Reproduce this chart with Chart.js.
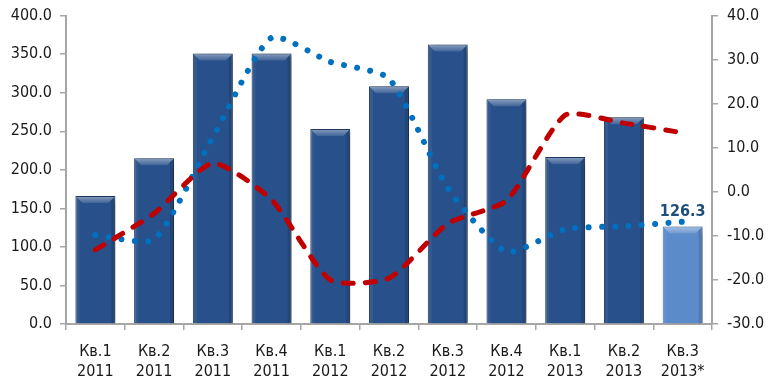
<!DOCTYPE html>
<html>
<head>
<meta charset="utf-8">
<script src="https://cdn.jsdelivr.net/npm/chart.js@4/dist/chart.umd.min.js"></script>
<style>
  html, body { margin: 0; padding: 0; background: #ffffff; }
  #wrap { width: 768px; height: 378px; }
</style>
</head>
<body>
<div id="wrap"><canvas id="c" width="768" height="378"></canvas></div>
<script>
// Quarter / year labels for the category axis
const quarters = ['Кв.1', 'Кв.2', 'Кв.3', 'Кв.4', 'Кв.1', 'Кв.2', 'Кв.3', 'Кв.4', 'Кв.1', 'Кв.2', 'Кв.3'];
const years    = ['2011', '2011', '2011', '2011', '2012', '2012', '2012', '2012', '2013', '2013', '2013*'];

// Bars: volume (left axis)
const volume = [166.0, 215.0, 351.0, 351.0, 253.0, 308.5, 362.5, 291.5, 216.5, 268.0, 126.3];
// Dashed red line: change vs previous quarter, % (right axis)
const growthQoQ = [-13.2, -4.9, 6.5, -1.8, -20.0, -19.6, -7.2, -2.0, 17.4, 15.6, 13.4];
// Dotted blue line: change vs same quarter of previous year, % (right axis)
const growthYoY = [-9.8, -10.8, 12.4, 35.0, 29.5, 25.7, 0.9, -13.6, -8.5, -7.8, -6.8];

// Axis ranges: [min, max, step]
const volumeAxis = [0, 400, 50];
const growthAxis = [-30, 40, 10];

const labels = quarters.map((q, i) => [q, years[i]]);
const lastIndex = volume.length - 1;

const FONT = '"DejaVu Sans Condensed", "DejaVu Sans", Tahoma, sans-serif';
const AXIS_COLOR = '#A6A6A6';
const TEXT_COLOR = '#1a1a1a';

const barFill = volume.map((v, i) => i === lastIndex ? '#5B8BCB' : '#28508A');
const barEdge = volume.map((v, i) => i === lastIndex ? '#4A78B5' : '#1E3E6C');

// Soft drop shadow behind the bars plus a bevelled top edge
const barStyle = {
  id: 'barStyle',
  beforeDatasetDraw(chart, args) {
    if (args.index !== 0) return;
    const ctx = chart.ctx;
    ctx.save();
    ctx.shadowColor = 'rgba(0,0,0,0.45)';
    ctx.shadowBlur = 8;
    ctx.shadowOffsetX = 5;
    ctx.shadowOffsetY = 2;
  },
  afterDatasetDraw(chart, args) {
    if (args.index !== 0) return;
    const ctx = chart.ctx;
    ctx.restore();
    const meta = chart.getDatasetMeta(0);
    meta.data.forEach((bar) => {
      const w = bar.width;
      const x0 = bar.x - w / 2, x1 = bar.x + w / 2;
      const top = bar.y, bottom = bar.base;
      const b = 7;
      // top bevel
      const g = ctx.createLinearGradient(0, top, 0, top + b);
      g.addColorStop(0, 'rgba(255,255,255,0.45)');
      g.addColorStop(1, 'rgba(255,255,255,0.12)');
      ctx.fillStyle = g;
      ctx.beginPath();
      ctx.moveTo(x0 + 1, top + 1);
      ctx.lineTo(x1 - 1, top + 1);
      ctx.lineTo(x1 - b, top + b);
      ctx.lineTo(x0 + b, top + b);
      ctx.closePath();
      ctx.fill();
      // right side slightly darker
      ctx.fillStyle = 'rgba(0,0,0,0.12)';
      ctx.beginPath();
      ctx.moveTo(x1 - 1, top + 1);
      ctx.lineTo(x1 - 1, bottom);
      ctx.lineTo(x1 - 4, bottom);
      ctx.lineTo(x1 - 4, top + 4);
      ctx.closePath();
      ctx.fill();
      // left side slightly lighter
      ctx.fillStyle = 'rgba(255,255,255,0.06)';
      ctx.beginPath();
      ctx.moveTo(x0 + 1, top + 1);
      ctx.lineTo(x0 + 4, top + 4);
      ctx.lineTo(x0 + 4, bottom);
      ctx.lineTo(x0 + 1, bottom);
      ctx.closePath();
      ctx.fill();
    });
  }
};

// Value label over the last (estimated) bar
const lastLabel = {
  id: 'lastLabel',
  afterDatasetsDraw(chart) {
    const ctx = chart.ctx;
    const bar = chart.getDatasetMeta(0).data[lastIndex];
    ctx.save();
    ctx.font = 'bold 16px ' + FONT;
    ctx.fillStyle = '#1F4E7A';
    ctx.textAlign = 'center';
    ctx.textBaseline = 'alphabetic';
    ctx.fillText(volume[lastIndex].toFixed(1), bar.x, bar.y - 11);
    ctx.restore();
  }
};

// Vertical axes: fixed width, slightly tighter top padding
function fitVertical(width) {
  return (s) => {
    s.width = width;
    s.paddingTop = Math.max(0, (s.paddingTop || 0) - 3);
  };
}

new Chart(document.getElementById('c'), {
  data: {
    labels: labels,
    datasets: [
      {
        type: 'bar',
        data: volume,
        yAxisID: 'y',
        backgroundColor: barFill,
        borderColor: barEdge,
        borderWidth: 1,
        barPercentage: 0.68,
        categoryPercentage: 1.0,
        order: 3
      },
      {
        type: 'line',
        data: growthYoY,
        yAxisID: 'y1',
        borderColor: '#0070C0',
        borderWidth: 6,
        borderDash: [0.001, 13.3],
        borderCapStyle: 'round',
        tension: 0.2,
        pointRadius: 0,
        fill: false,
        order: 2
      },
      {
        type: 'line',
        data: growthQoQ,
        yAxisID: 'y1',
        borderColor: '#C00000',
        borderWidth: 5,
        borderDash: [10, 12],
        borderCapStyle: 'round',
        tension: 0.2,
        pointRadius: 0,
        fill: false,
        order: 1
      }
    ]
  },
  options: {
    responsive: false,
    devicePixelRatio: 1,
    animation: false,
    layout: { padding: { top: 0, left: 0, right: 0, bottom: 0 } },
    plugins: { legend: { display: false }, tooltip: { enabled: false } },
    scales: {
      x: {
        type: 'category',
        offset: true,
        grid: { display: true, drawOnChartArea: false, drawTicks: true, tickLength: 6, color: AXIS_COLOR, lineWidth: 1.5, offset: true },
        border: { display: true, color: AXIS_COLOR, width: 2 },
        ticks: { color: TEXT_COLOR, font: { family: FONT, size: 16, lineHeight: 1.25 }, maxRotation: 0, autoSkip: false, padding: 12 },
        afterFit(s) { s.height = 54; }
      },
      y: {
        position: 'left',
        min: volumeAxis[0], max: volumeAxis[1],
        grid: { display: true, drawOnChartArea: false, drawTicks: true, tickLength: 6, color: AXIS_COLOR, lineWidth: 1.5 },
        border: { display: true, color: AXIS_COLOR, width: 2 },
        ticks: { stepSize: volumeAxis[2], color: TEXT_COLOR, font: { family: FONT, size: 16 }, padding: 8,
                 callback: (v) => Number(v).toFixed(1) },
        afterFit: fitVertical(66)
      },
      y1: {
        position: 'right',
        min: growthAxis[0], max: growthAxis[1],
        grid: { display: true, drawOnChartArea: false, drawTicks: true, tickLength: 6, color: AXIS_COLOR, lineWidth: 1.5 },
        border: { display: true, color: AXIS_COLOR, width: 2 },
        ticks: { stepSize: growthAxis[2], color: TEXT_COLOR, font: { family: FONT, size: 16 }, padding: 9,
                 callback: (v) => Number(v).toFixed(1) },
        afterFit: fitVertical(56)
      }
    }
  },
  plugins: [barStyle, lastLabel]
});
</script>
</body>
</html>
